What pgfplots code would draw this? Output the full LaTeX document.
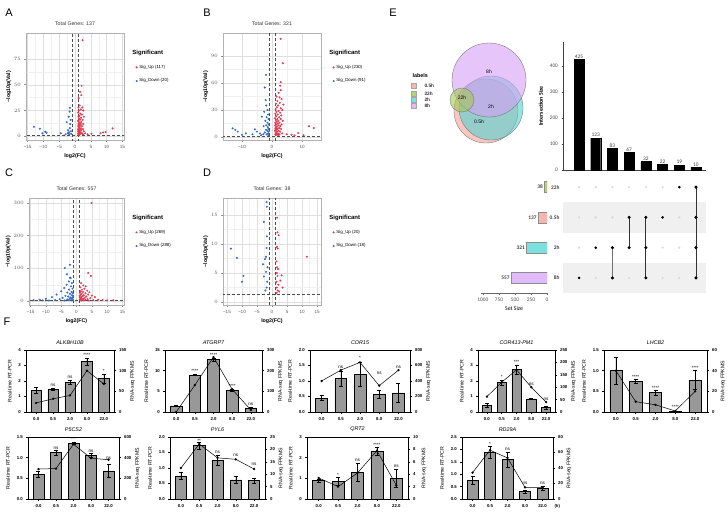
\documentclass[border=0pt]{standalone}
\usepackage{pgfplots}
\pgfplotsset{compat=1.18}
\usepackage{fontspec}
\setmainfont{Liberation Sans}
\newfontfamily\calib{Carlito}
\newcommand{\fs}[1]{\fontsize{#1}{#1}\selectfont}

\definecolor{upred}{RGB}{228,56,80}
\definecolor{downblue}{RGB}{50,106,196}
\definecolor{s05}{RGB}{248,182,178}
\definecolor{s22}{RGB}{180,210,112}
\definecolor{s2}{RGB}{124,224,222}
\definecolor{s8}{RGB}{224,186,250}
\definecolor{v05}{RGB}{246,160,150}
\definecolor{v22}{RGB}{160,200,80}
\definecolor{v2}{RGB}{80,210,210}
\definecolor{v8}{RGB}{214,160,246}
\definecolor{bargray}{RGB}{152,152,152}

\pgfplotsset{
  every axis/.append style={scaled ticks=false},
  volc/.style={
    scale only axis, width=98pt, height=107pt, anchor=south west,
    xmin=-15.5, xmax=15.5, xtick={-15,-10,-5,0,5,10,15},
    xticklabels={−15,−10,−5,0,5,10,15},
    minor x tick num=1, minor y tick num=1,
    grid=both,
    major grid style={black!13, line width=0.35pt},
    minor grid style={black!6, line width=0.25pt},
    axis line style={black!30, line width=0.6pt},
    tick align=outside, major tick length=1.6pt, minor tick length=0pt,
    tick style={black!45, line width=0.4pt},
    xtick pos=bottom, ytick pos=left,
    tick label style={font=\fs{4.6}, text=black!65},
    title style={font=\fs{5.2}, text=black!80, yshift=-2pt},
    xlabel={\bfseries log2(FC)}, ylabel={\bfseries −log10p(Val)},
    label style={font=\fs{5.3}},
    xlabel style={yshift=2pt}, ylabel style={yshift=-4pt},
    legend style={at={(1.04,0.86)}, anchor=north west, draw=none, fill=none,
      font=\fs{4.4}, row sep=5pt, inner sep=0pt},
    legend cell align=left,
  },
  upm/.style={only marks, mark=*, mark size=0.8pt, color=upred},
  downm/.style={only marks, mark=*, mark size=0.8pt, color=downblue},
  thr/.style={densely dashed, black!70, line width=0.4pt, forget plot},
  fl/.style={
    scale only axis, anchor=south west, height=62pt, ybar, bar width=0.62,
    xmin=-0.6, xmax=4.6, xtick={0,1,2,3,4}, xticklabels={0.0,0.5,2.0,8.0,22.0},
    ymin=0, xtick pos=bottom, ytick pos=left, tick align=outside,
    major tick length=1.6pt,
    axis line style={line width=0.55pt}, tick style={line width=0.5pt, black},
    tick label style={font=\bfseries\fs{4.3}},
    /pgf/number format/assume math mode=true,
    ylabel={Real-time RT-PCR}, ylabel style={font=\fs{5.2}},
    title style={font=\itshape\fs{5.4}, yshift=-4pt},
  },
  fr/.style={
    scale only axis, anchor=south west, height=62pt,
    xmin=-0.6, xmax=4.6, ymin=0, axis y line*=right, axis x line=none,
    tick align=outside, major tick length=1.6pt,
    axis line style={line width=0.55pt}, tick style={line width=0.5pt, black},
    tick label style={font=\bfseries\fs{4.3}},
    /pgf/number format/assume math mode=true,
    ylabel={RNA-seq FPKMS}, ylabel style={font=\fs{5.2}, yshift=3pt},
  },
  dec/.style={yticklabel style={/pgf/number format/fixed,
      /pgf/number format/fixed zerofill, /pgf/number format/precision=1}},
  fbar/.style={fill=bargray, draw=black, line width=0.5pt,
    error bars/.cd, y dir=both, y explicit,
    error bar style={line width=0.45pt, black},
    error mark options={rotate=90, mark size=2pt, line width=0.45pt, black}},
  fline/.style={black, line width=0.5pt, mark=*, mark size=0.9pt},
}
\newcommand{\sig}[3]{\node[font=\fs{4.6}, anchor=south, inner sep=0.4pt] at (axis cs:#1,#2) {#3};}

\begin{document}
\begin{tikzpicture}
\path[use as bounding box] (0,0) rectangle (728pt,-515pt);

% panel letters
\foreach \l/\x/\y in {A/9/13, B/207/13, C/9/173, D/207/173, E/393/13, F/7/322}
  \node[font=\fs{11}] at (\x pt,-\y pt) {\l};

% ---------- A ----------
\begin{axis}[volc, at={(26pt,-140pt)}, ymin=-3.5, ymax=100, ytick={0,25,50,75},
  title={Total Genes: 137}]
\addlegendimage{empty legend}\addlegendentry{\hspace{-7pt}\fs{6}\bfseries Significant}
\addplot[upm] coordinates {
(2.4,93) (2.1,49) (1.6,43) (1.2,37) (2.0,40) (1.5,30) (1.1,28) (2.3,28) (1.8,26) (1.3,25)
(2.6,25) (1.0,23) (1.7,22) (2.2,21) (1.4,20) (1.1,19) (2.8,19) (1.9,18) (1.3,17) (1.6,16)
(2.4,16) (1.0,15) (1.2,14) (2.0,14) (1.5,13) (1.1,12) (1.8,12) (2.6,12) (1.3,11) (1.0,10)
(1.6,10) (2.2,10) (1.2,9) (1.4,8) (1.9,8) (1.0,7) (1.7,7) (2.5,7) (1.1,6) (1.3,6) (2.0,6)
(1.5,5) (1.0,5) (2.8,5) (1.2,4) (1.8,4) (1.0,3) (1.4,3) (2.2,3) (3.2,3) (1.1,2) (1.6,2)
(2.5,2) (4.0,2) (8.1,3) (8.9,3.8) (9.7,4.2) (11.9,7.7) (5.2,2.5) (1.3,1.5)};
\addlegendentry{Sig\_Up (117)}
\addplot[downm] coordinates {
(-13,9.3) (-11.1,7.4) (-10.3,3) (-9.4,4.5) (-9,3.5) (-1.6,27.6) (-1.7,24) (-2.0,19)
(-2.6,13.8) (-1.5,12) (-1.6,8) (-1.9,4) (-2.3,3) (-1.3,5) (-1.2,2.5) (-4.5,3) (-3,2)
(-1.4,16) (-2.2,6) (-1.8,2)};
\addlegendentry{Sig\_Down (20)}
\addplot[thr] coordinates {(-1,-10) (-1,400)};
\addplot[thr] coordinates {(1,-10) (1,400)};
\addplot[thr] coordinates {(-20,1.3) (20,1.3)};
\end{axis}

% ---------- B ----------
\begin{axis}[volc, at={(223pt,-140pt)}, xmin=-16.3, xmax=16.3, xtick={-10,0,10},
  xticklabels={−10,0,10}, ymin=-3.3, ymax=115.5, ytick={0,30,60,90},
  title={Total Genes: 321}]
\addlegendimage{empty legend}\addlegendentry{\hspace{-7pt}\fs{6}\bfseries Significant}
\addplot[upm] coordinates {
(2.9,109) (3.6,82) (2.9,61) (2.7,57) (2.9,52) (2.2,49) (1.5,45) (2.5,44) (3.2,42) (1.8,40)
(2.6,38) (1.3,37) (3.8,36) (2.0,35) (1.6,33) (2.9,32) (1.2,31) (3.4,30) (2.2,29) (1.5,28)
(2.7,27) (1.1,26) (1.9,25) (3.1,24) (1.4,23) (2.4,22) (1.0,21) (1.8,20) (2.9,20) (1.3,19)
(2.1,18) (3.6,18) (1.6,17) (1.1,16) (2.5,16) (1.9,15) (1.4,14) (3.2,14) (1.0,13) (2.2,13)
(1.7,12) (2.8,12) (1.2,11) (1.5,10) (2.4,10) (1.1,9) (1.9,9) (3.0,9) (1.4,8) (1.0,7)
(2.2,7) (1.7,6) (2.7,6) (1.2,5) (1.5,4) (2.0,4) (3.4,4) (1.1,3) (1.8,3) (2.5,3) (1.3,2)
(2.1,2) (4.9,3) (8.7,4.4) (12.3,12) (13.9,10) (6.5,2.5) (10.5,2) (7.5,1.8)};
\addlegendentry{Sig\_Up (230)}
\addplot[downm] coordinates {
(-2,69) (-2.4,55) (-2.1,41) (-1.9,35) (-3.4,22.6) (-1.5,30) (-2.6,28) (-1.3,25) (-1.8,22)
(-1.2,20) (-2.2,18) (-1.5,16) (-1.1,14) (-1.9,13) (-2.8,12) (-1.4,11) (-1.2,9) (-2.0,8)
(-1.6,7) (-1.1,6) (-2.4,5) (-1.3,4) (-1.8,3) (-1.2,2) (-2.9,3) (-13.1,9.6) (-12.2,8)
(-11.4,6) (-8.7,4) (-5.7,8.5) (-5,6) (-6.5,3) (-10,2.5) (-4,4) (-3.6,2)};
\addlegendentry{Sig\_Down (91)}
\addplot[thr] coordinates {(-1,-10) (-1,400)};
\addplot[thr] coordinates {(1,-10) (1,400)};
\addplot[thr] coordinates {(-20,1.3) (20,1.3)};
\end{axis}

% ---------- C ----------
\begin{axis}[volc, at={(29pt,-305pt)}, width=95pt, ymin=-12, ymax=315, ytick={0,100,200,300},
  title={Total Genes: 557}]
\addlegendimage{empty legend}\addlegendentry{\hspace{-7pt}\fs{6}\bfseries Significant}
\addplot[upm] coordinates {
(4.9,300) (3.8,86) (4.7,77) (1.5,55) (2.2,48) (3.0,45) (1.2,42) (2.6,38) (1.8,35) (3.5,32)
(1.4,30) (2.1,28) (4.2,27) (1.1,25) (2.9,24) (1.7,22) (3.8,20) (1.3,19) (2.4,18) (5.0,17)
(1.0,16) (2.0,15) (3.2,14) (1.6,13) (6.0,12) (1.2,11) (2.7,10) (4.5,9) (1.4,8) (2.2,7)
(3.6,6) (1.1,5) (1.9,5) (7.0,4) (2.9,4) (1.3,3) (5.5,3) (8.5,3) (1.7,2) (10,2) (2.4,2)
(4,2) (12,2.5)};
\addlegendentry{Sig\_Up (269)}
\addplot[downm] coordinates {
(-3.8,101) (-2.1,111) (-3.1,82) (-2.1,72) (-1.9,70) (-2.5,60) (-1.5,55) (-3.2,50)
(-1.8,45) (-4.0,40) (-1.3,38) (-2.4,35) (-5.0,30) (-1.6,28) (-3.0,26) (-1.2,24) (-2.1,22)
(-6.5,20) (-1.5,18) (-3.6,16) (-1.1,15) (-2.7,14) (-8,12) (-1.9,11) (-4.5,10) (-1.3,9)
(-2.2,8) (-10,7) (-1.7,6) (-5.5,6) (-3,5) (-12,4) (-1.2,4) (-7,3) (-2.5,3) (-14,3) (-9,2)
(-4,2) (-1.5,2) (-11,2)};
\addlegendentry{Sig\_Down (288)}
\addplot[thr] coordinates {(-1,-20) (-1,400)};
\addplot[thr] coordinates {(1,-20) (1,400)};
\addplot[thr] coordinates {(-20,1.3) (20,1.3)};
\end{axis}

% ---------- D ----------
\begin{axis}[volc, at={(223pt,-305pt)}, xmin=-16.3, xmax=16.3, ymin=-0.5, ymax=17.9,
  ytick={0,5,10,15}, minor y tick num=1, title={Total Genes: 38}]
\addlegendimage{empty legend}\addlegendentry{\hspace{-7pt}\fs{6}\bfseries Significant}
\addplot[upm] coordinates {
(1.7,14.5) (1.8,12) (2.2,11.5) (1.6,9.5) (1.9,9.2) (1.5,7) (1.7,6) (2.0,5.7) (1.6,5)
(1.8,4.5) (3.2,4.6) (11.6,7.8) (1.5,3.5) (2.1,3) (1.6,2.5) (1.9,2) (2.4,1.8) (1.5,1.6)
(3.5,2.5) (2.8,3.7)};
\addlegendentry{Sig\_Up (20)}
\addplot[downm] coordinates {
(-1.8,17.2) (-1.7,16.4) (-2.7,13.8) (-1.7,11.3) (-1.8,9.3) (-2,7.8) (-2.3,7.4) (-2,5.2)
(-2.7,4.4) (-1.6,3.5) (-1.8,2.5) (-2.2,2) (-13.7,9.2) (-11.7,7.6) (-9.5,4.5) (-10,3.5)
(-3,6.5) (-1.5,6)};
\addlegendentry{Sig\_Down (18)}
\addplot[thr] coordinates {(-1,-10) (-1,400)};
\addplot[thr] coordinates {(1,-10) (1,400)};
\addplot[thr] coordinates {(-20,1.3) (20,1.3)};
\end{axis}

% ---------- E: Venn ----------
\begin{axis}[at={(440pt,-150pt)}, anchor=south west, scale only axis, width=100pt,
  height=110pt, xmin=440, xmax=540, ymin=-150, ymax=-40, hide axis, clip=false]
\draw[fill=v05, fill opacity=0.6, draw=black!55, line width=0.35pt]
  (axis cs:486,-111) circle [radius=32];
\draw[fill=v2, fill opacity=0.6, draw=black!55, line width=0.35pt]
  (axis cs:491,-108) circle [radius=32];
\draw[fill=v8, fill opacity=0.6, draw=black!55, line width=0.35pt]
  (axis cs:489,-80) circle [radius=37];
\draw[fill=v22, fill opacity=0.6, draw=black!55, line width=0.35pt]
  (axis cs:462,-100) circle [radius=12];
\node[font=\fs{5}] at (axis cs:489,-72) {8h};
\node[font=\fs{5}] at (axis cs:462,-98) {22h};
\node[font=\fs{5}] at (axis cs:491,-107) {2h};
\node[font=\fs{5}] at (axis cs:479,-122) {0.5h};
\end{axis}
\node[font=\fs{5.4}\bfseries, anchor=west] at (409pt,-76pt) {labels};
\foreach \c/\t/\y in {s05/0.5h/86, s22/22h/93.3, s2/2h/99.5, s8/8h/105.5}{
  \node[fill=\c, draw=black!35, line width=0.3pt, minimum size=5pt, inner sep=0pt]
    at (413.5pt,-\y pt) {};
  \node[font=\fs{4.8}\bfseries, text=black!80, anchor=west] at (421pt,-\y pt) {\t};
}

% ---------- E: UpSet intersections ----------
\begin{axis}[at={(563pt,-170pt)}, anchor=south west, scale only axis, width=143pt,
  height=128pt, ybar, bar width=10pt, xmin=-0.96, xmax=7.6, ymin=0, ymax=492,
  axis x line*=bottom, axis y line*=left, xtick=\empty, ytick={0,100,200,300,400},
  tick align=outside, major tick length=1.5pt,
  axis line style={black!75, line width=0.6pt}, tick style={black!75},
  tick label style={font=\calib\fs{5.4}, text=black!70},
  /pgf/number format/assume math mode=true,
  ylabel={\bfseries Intersection Size}, ylabel style={font=\calib\fs{5.8}},
  nodes near coords,
  every node near coord/.append style={font=\calib\fs{5.4}, text=black!75, inner sep=1pt}]
\addplot[fill=black, draw=black] coordinates {
  (0,425) (1,123) (2,83) (3,67) (4,32) (5,22) (6,19) (7,10)};
\end{axis}

% ---------- E: UpSet matrix ----------
\begin{axis}[at={(563pt,-293pt)}, anchor=south west, scale only axis, width=143pt,
  height=121pt, xmin=-0.96, xmax=7.6, ymin=-0.5, ymax=3.5,
  axis line style={draw=none}, major tick length=0pt, xtick=\empty,
  ytick={0,1,2,3}, yticklabels={8h,2h,0.5h,22h}, ytick pos=left,
  yticklabel style={font=\calib\bfseries\fs{5.4}, text=black!75}, clip=false]
\fill[black!6] (axis cs:-0.96,1.5) rectangle (axis cs:7.6,2.5);
\fill[black!6] (axis cs:-0.96,-0.5) rectangle (axis cs:7.6,0.5);
\addplot[only marks, mark=*, mark size=0.9pt, color=black!15] coordinates {
  (0,0) (0,1) (0,2) (0,3) (1,0) (1,1) (1,2) (1,3) (2,0) (2,1) (2,2) (2,3)
  (3,0) (3,1) (3,2) (3,3) (4,0) (4,1) (4,2) (4,3) (5,0) (5,1) (5,2) (5,3)
  (6,0) (6,1) (6,2) (6,3) (7,0) (7,1) (7,2) (7,3)};
\addplot[only marks, mark=*, mark size=1.1pt, color=black] coordinates {
  (0,0) (1,1) (5,2) (6,3)};
\addplot[black!55, line width=0.8pt, mark=*, mark size=1.1pt,
  mark options={black}] coordinates {(2,1) (2,0)};
\addplot[black!80, line width=0.8pt, mark=*, mark size=1.1pt,
  mark options={black}] coordinates {(3,2) (3,1)};
\addplot[black!80, line width=0.8pt, mark=*, mark size=1.1pt,
  mark options={black}] coordinates {(4,2) (4,1) (4,0)};
\addplot[black!80, line width=0.8pt, mark=*, mark size=1.1pt,
  mark options={black}] coordinates {(7,3) (7,2) (7,1) (7,0)};
\end{axis}

% ---------- E: set sizes ----------
\begin{axis}[at={(547pt,-293pt)}, anchor=south east, scale only axis, width=66pt,
  height=121pt, xbar, bar width=11pt, x dir=reverse, xmin=0, xmax=1030,
  ymin=-0.5, ymax=3.5, axis x line*=bottom, axis y line=none,
  xtick={0,250,500,750,1000}, ytick=\empty, tick align=outside,
  major tick length=1.5pt, axis line style={black!60}, tick style={black!60},
  tick label style={font=\calib\fs{5.4}, text=black!70},
  /pgf/number format/assume math mode=true, /pgf/number format/1000 sep={},
  xlabel={Set Size}, xlabel style={font=\calib\fs{5.8}, yshift=2pt},
  nodes near coords,
  every node near coord/.append style={font=\calib\bfseries\fs{5.4}, text=black!75,
    anchor=east, inner sep=1.5pt}]
\addplot[fill=s22, draw=black!45, bar shift=0pt] coordinates {(38,3)};
\addplot[fill=s05, draw=black!45, bar shift=0pt] coordinates {(137,2)};
\addplot[fill=s2, draw=black!45, bar shift=0pt] coordinates {(321,1)};
\addplot[fill=s8, draw=black!45, bar shift=0pt] coordinates {(557,0)};
\end{axis}

% ---------- F row 1 ----------
\begin{axis}[fl, at={(26pt,-412pt)}, width=88pt, ymax=4, ytick={0,1,2,3,4},
  title={ALKBH10B}]
\addplot[fbar] coordinates {(0,1.4)+-(0,0.18) (1,1.45)+-(0,0.07) (2,1.9)+-(0,0.12)
  (3,3.25)+-(0,0.25) (4,2.15)+-(0,0.3)};
\sig{1}{1.6}{ns} \sig{2}{2.1}{ns} \sig{3}{3.55}{****} \sig{4}{2.5}{*}
\end{axis}
\begin{axis}[fr, at={(26pt,-412pt)}, width=88pt, ymax=150, ytick={0,50,100,150}]
\addplot[fline] coordinates {(0,22) (1,32) (2,40) (3,100) (4,68)};
\end{axis}

\begin{axis}[fl, at={(165pt,-412pt)}, width=97pt, ymax=15, ytick={0,5,10,15},
  title={ATGRP7}]
\addplot[fbar] coordinates {(0,1.5)+-(0,0.1) (1,9.0)+-(0,0.2) (2,12.7)+-(0,0.4)
  (3,5.3)+-(0,0.3) (4,1.0)+-(0,0.2)};
\sig{1}{9.5}{****} \sig{2}{13.3}{****} \sig{3}{5.8}{****} \sig{4}{1.5}{ns}
\end{axis}
\begin{axis}[fr, at={(165pt,-412pt)}, width=97pt, ymax=300, ytick={0,100,200,300}]
\addplot[fline] coordinates {(0,0) (1,130) (2,266) (3,110) (4,10)};
\end{axis}

\begin{axis}[fl, dec, at={(310pt,-412pt)}, width=100pt, ymax=2, ytick={0,0.5,1,1.5,2},
  title={COR15}]
\addplot[fbar] coordinates {(0,0.45)+-(0,0.08) (1,1.08)+-(0,0.25) (2,1.22)+-(0,0.4)
  (3,0.58)+-(0,0.12) (4,0.62)+-(0,0.3)};
\sig{1}{1.38}{ns} \sig{2}{1.66}{*} \sig{3}{1.2}{ns} \sig{4}{1.38}{ns}
\end{axis}
\begin{axis}[fr, at={(310pt,-412pt)}, width=100pt, ymax=800, ytick={0,200,400,600,800}]
\addplot[fline] coordinates {(0,400) (1,540) (2,640) (3,340) (4,540)};
\end{axis}

\begin{axis}[fl, at={(478pt,-412pt)}, width=77pt, ymax=4, ytick={0,1,2,3,4},
  title={COR413-PM1}]
\addplot[fbar] coordinates {(0,0.45)+-(0,0.12) (1,1.9)+-(0,0.15) (2,2.75)+-(0,0.3)
  (3,0.85)+-(0,0.05) (4,0.3)+-(0,0.1)};
\sig{1}{2.1}{*} \sig{2}{3.1}{***} \sig{3}{1.7}{ns} \sig{4}{0.7}{ns}
\end{axis}
\begin{axis}[fr, at={(478pt,-412pt)}, width=77pt, ymax=250, ytick={0,50,100,150,200,250}]
\addplot[fline] coordinates {(0,62) (1,120) (2,170) (3,100) (4,40)};
\end{axis}

\begin{axis}[fl, dec, at={(604pt,-412pt)}, width=103pt, ymax=1.5, ytick={0,0.5,1,1.5},
  title={LHCB2}]
\addplot[fbar] coordinates {(0,1.0)+-(0,0.33) (1,0.74)+-(0,0.05) (2,0.47)+-(0,0.06)
  (3,0.02)+-(0,0.01) (4,0.77)+-(0,0.23)};
\sig{1}{0.8}{****} \sig{2}{0.54}{****} \sig{3}{0.06}{****} \sig{4}{1.01}{****}
\end{axis}
\begin{axis}[fr, at={(604pt,-412pt)}, width=103pt, ymax=60, ytick={0,20,40,60}]
\addplot[fline] coordinates {(0,40) (1,10) (2,7) (3,1) (4,20)};
\end{axis}

% ---------- F row 2 ----------
\begin{axis}[fl, dec, at={(28pt,-499pt)}, width=91pt, ymax=1.5, ytick={0,0.5,1,1.5},
  title={P5CS2}]
\addplot[fbar] coordinates {(0,0.6)+-(0,0.07) (1,1.12)+-(0,0.05) (2,1.35)+-(0,0.03)
  (3,1.05)+-(0,0.05) (4,0.68)+-(0,0.15)};
\sig{1}{1.18}{ns} \sig{2}{1.39}{***} \sig{3}{1.11}{ns} \sig{4}{0.95}{ns}
\end{axis}
\begin{axis}[fr, at={(28pt,-499pt)}, width=91pt, ymax=600, ytick={0,200,400,600}]
\addplot[fline] coordinates {(0,290) (1,295) (2,530) (3,395) (4,380)};
\end{axis}

\begin{axis}[fl, dec, at={(170pt,-499pt)}, width=95pt, ymax=2, ytick={0,0.5,1,1.5,2},
  title={PYL6}]
\addplot[fbar] coordinates {(0,0.75)+-(0,0.12) (1,1.72)+-(0,0.1) (2,1.25)+-(0,0.15)
  (3,0.62)+-(0,0.1) (4,0.6)+-(0,0.08)};
\sig{1}{1.8}{**} \sig{2}{1.45}{ns} \sig{3}{1.35}{ns} \sig{4}{1.05}{ns}
\end{axis}
\begin{axis}[fr, at={(170pt,-499pt)}, width=95pt, ymax=25, ytick={0,5,10,15,20,25}]
\addplot[fline] coordinates {(0,12.5) (1,22.2) (2,16.6) (3,16) (4,12.1)};
\end{axis}

\begin{axis}[fl, at={(307pt,-499pt)}, width=101pt, ymax=3, ytick={0,1,2,3},
  title={QRT2}]
\addplot[fbar] coordinates {(0,0.9)+-(0,0.08) (1,0.85)+-(0,0.2) (2,1.3)+-(0,0.45)
  (3,2.3)+-(0,0.2) (4,1.0)+-(0,0.45)};
\sig{1}{1.08}{*} \sig{2}{1.78}{ns} \sig{3}{2.52}{****} \sig{4}{1.48}{ns}
\end{axis}
\begin{axis}[fr, at={(307pt,-499pt)}, width=101pt, ymax=10, ytick={0,2,4,6,8,10}]
\addplot[fline] coordinates {(0,3.4) (1,2.0) (2,4.2) (3,7.8) (4,2.2)};
\end{axis}

\begin{axis}[fl, dec, at={(462pt,-499pt)}, width=91pt, ymax=2.5, ytick={0,0.5,1,1.5,2,2.5},
  title={RD29A}]
\addplot[fbar] coordinates {(0,0.75)+-(0,0.15) (1,1.88)+-(0,0.25) (2,1.6)+-(0,0.3)
  (3,0.3)+-(0,0.05) (4,0.42)+-(0,0.08)};
\sig{1}{2.15}{*} \sig{2}{1.95}{ns} \sig{3}{0.55}{ns} \sig{4}{0.55}{ns}
\end{axis}
\begin{axis}[fr, at={(462pt,-499pt)}, width=91pt, ymax=80, ytick={0,20,40,60,80}]
\addplot[fline] coordinates {(0,34) (1,63) (2,53) (3,15) (4,15)};
\end{axis}
\node[font=\bfseries\fs{4.2}, anchor=west] at (551pt,-506.5pt) {(h)};

\end{tikzpicture}
\end{document}
